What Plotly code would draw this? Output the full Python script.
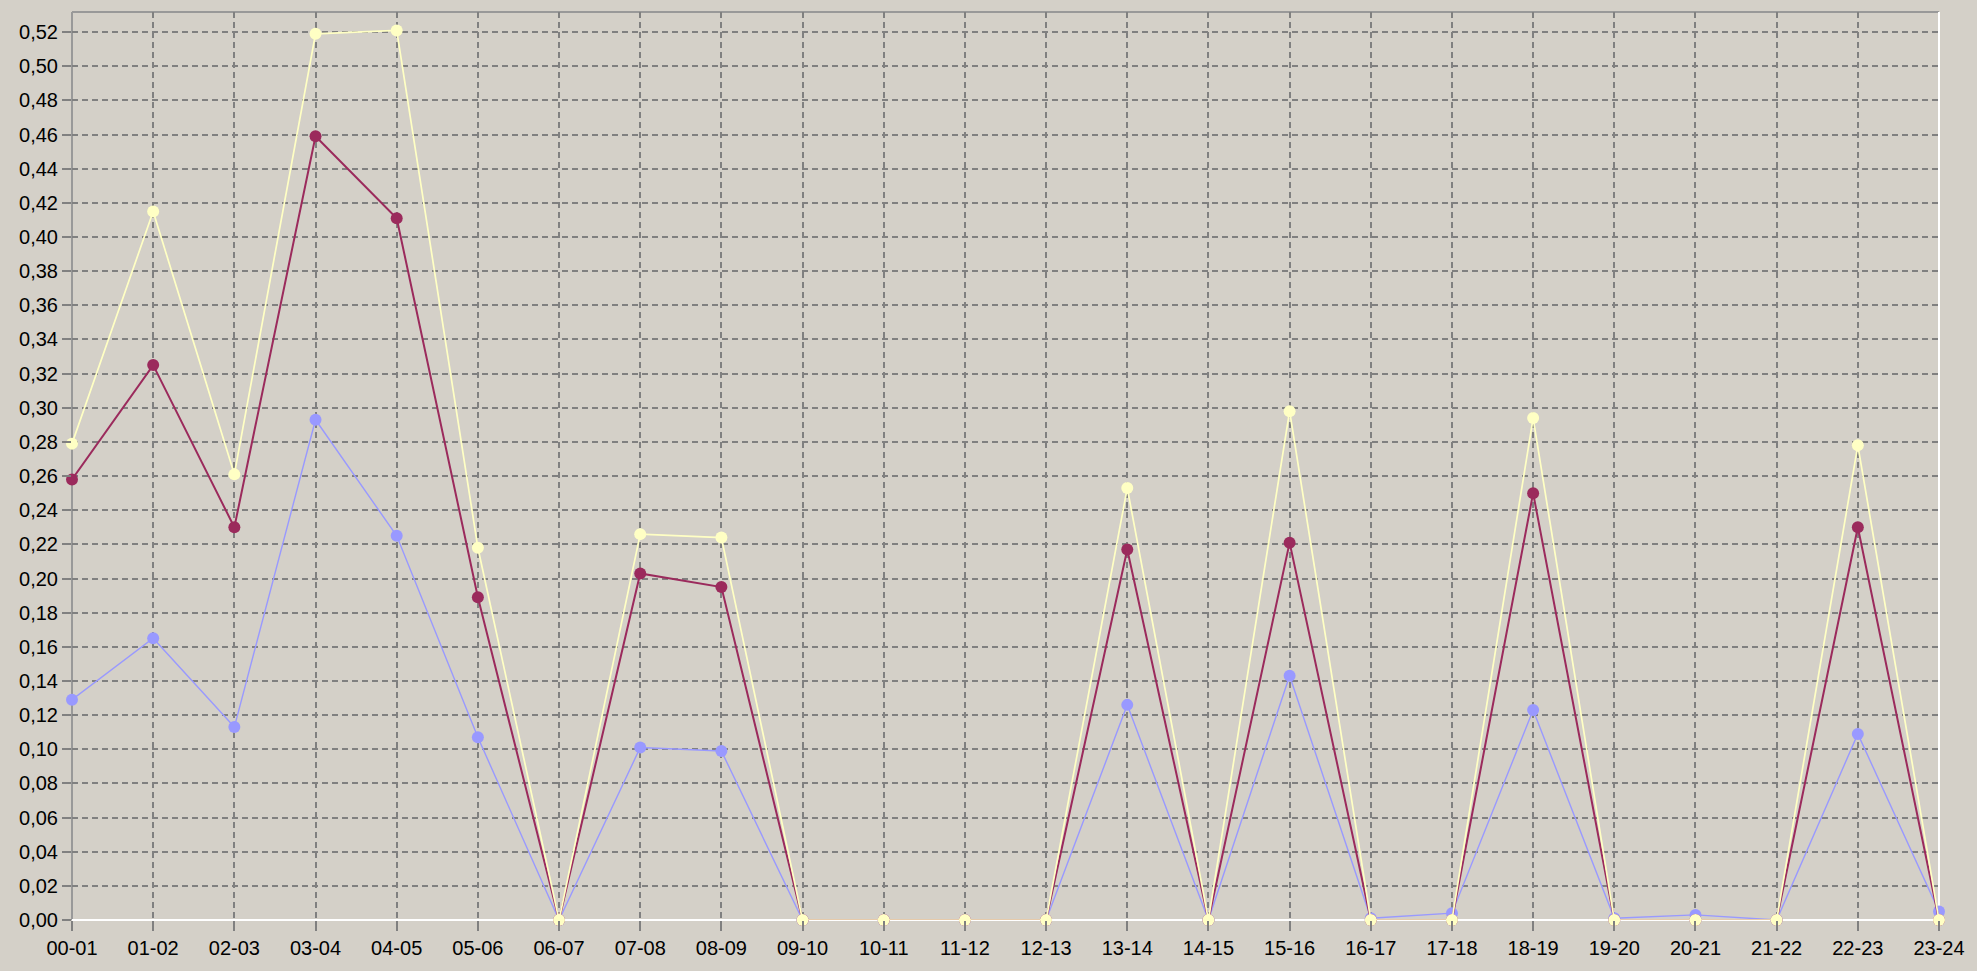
import plotly.graph_objects as go

categories = ["00-01", "01-02", "02-03", "03-04", "04-05", "05-06", "06-07", "07-08",
              "08-09", "09-10", "10-11", "11-12", "12-13", "13-14", "14-15", "15-16",
              "16-17", "17-18", "18-19", "19-20", "20-21", "21-22", "22-23", "23-24"]

series_yellow = [0.279, 0.415, 0.261, 0.519, 0.521, 0.218, 0.0, 0.226,
                 0.224, 0.0, 0.0, 0.0, 0.0, 0.253, 0.0, 0.298,
                 0.0, 0.0, 0.294, 0.0, 0.0, 0.0, 0.278, 0.0]

series_maroon = [0.258, 0.325, 0.230, 0.459, 0.411, 0.189, 0.0, 0.203,
                 0.195, 0.0, 0.0, 0.0, 0.0, 0.217, 0.0, 0.221,
                 0.0, 0.0, 0.250, 0.0, 0.0, 0.0, 0.230, 0.0]

series_blue = [0.129, 0.165, 0.113, 0.293, 0.225, 0.107, 0.0, 0.101,
               0.099, 0.0, 0.0, 0.0, 0.0, 0.126, 0.0, 0.143,
               0.001, 0.004, 0.123, 0.001, 0.003, 0.0, 0.109, 0.005]

y_ticks = [i / 100 for i in range(0, 53, 2)]

BG = "#d4d0c8"
GRID = "#808080"

fig = go.Figure()

def add(vals, color, lw, msize):
    fig.add_trace(go.Scatter(
        x=categories, y=vals, mode="lines+markers",
        line=dict(color=color, width=lw),
        marker=dict(color=color, size=msize, symbol="circle", line=dict(width=0)),
        cliponaxis=False, showlegend=False, hoverinfo="x+y"))

add(series_blue, "#9999ff", 1.4, 12)
add(series_maroon, "#9b2a5c", 2, 12)
add(series_yellow, "#ffffc4", 1.7, 12)

fig.update_layout(
    width=1977, height=971,
    margin=dict(l=72, r=30, t=12, b=39),
    paper_bgcolor=BG, plot_bgcolor=BG,
    separators=",.",
    font=dict(family="Liberation Sans, Arial, sans-serif", size=20, color="#000000"),
    showlegend=False,
)

fig.update_xaxes(
    type="category", range=[0, 23],
    showgrid=True, gridcolor=GRID, gridwidth=2, griddash="6px,4px",
    ticks="outside", ticklen=10, tickcolor=GRID, tickwidth=2,
    showline=False, zeroline=False,
    tickfont=dict(size=20),
)

fig.update_yaxes(
    range=[0, 0.5318], tickvals=y_ticks, tickformat=".2f",
    showgrid=True, gridcolor=GRID, gridwidth=2, griddash="6px,4px",
    ticks="outside", ticklen=9, tickcolor=GRID, tickwidth=2,
    showline=False, zeroline=False,
    tickfont=dict(size=20),
)

# sunken frame: gray top/left, white bottom/right
frame = [
    dict(x0=0, x1=1, y0=1, y1=1, color="#999999"),
    dict(x0=0, x1=0, y0=0, y1=1, color="#999999"),
    dict(x0=0, x1=1, y0=0, y1=0, color="#ffffff"),
    dict(x0=1, x1=1, y0=0, y1=1, color="#ffffff"),
]
for f in frame:
    fig.add_shape(type="line", xref="x domain", yref="y domain",
                  x0=f["x0"], x1=f["x1"], y0=f["y0"], y1=f["y1"],
                  line=dict(color=f["color"], width=2), layer="below")

fig.write_html("out.html", config={"displayModeBar": False},
               post_script="document.body.style.margin='0';")
